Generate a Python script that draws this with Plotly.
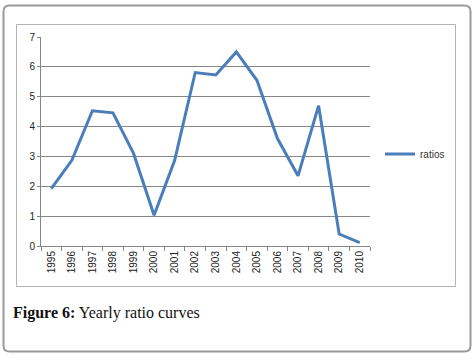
import plotly.graph_objects as go

years = ["1995", "1996", "1997", "1998", "1999", "2000", "2001", "2002",
         "2003", "2004", "2005", "2006", "2007", "2008", "2009", "2010"]
ratios = [1.92, 2.87, 4.53, 4.46, 3.1, 1.03, 2.87, 5.81,
          5.73, 6.5, 5.55, 3.6, 2.35, 4.7, 0.4, 0.11]
y_ticks = [0, 1, 2, 3, 4, 5, 6, 7]

W, H = 474, 355
L, R, T, B = 41, 104, 37, 109
PW, PH = W - L - R, H - T - B


def px(x):
    return (x - L) / PW


def py(y):
    return 1 - (y - T) / PH


def rounded_rect(x0, y0, x1, y1, r):
    rx, ry = r / PW, r / PH
    a, b, c, d = px(x0), py(y0), px(x1), py(y1)
    return (f"M {a+rx},{b} L {c-rx},{b} Q {c},{b} {c},{b-ry} "
            f"L {c},{d+ry} Q {c},{d} {c-rx},{d} L {a+rx},{d} "
            f"Q {a},{d} {a},{d+ry} L {a},{b-ry} Q {a},{b} {a+rx},{b} Z")


fig = go.Figure()
fig.add_trace(go.Scatter(
    x=years, y=ratios, mode="lines", name="ratios",
    line=dict(color="#4A7EBB", width=3),
))

fig.update_layout(
    width=W, height=H,
    margin=dict(l=L, r=R, t=T, b=B),
    paper_bgcolor="white", plot_bgcolor="white",
    showlegend=True,
    legend=dict(x=px(380), y=py(154), xanchor="left", yanchor="middle",
                font=dict(family="Liberation Sans, Arial", size=10, color="#333"),
                bgcolor="rgba(0,0,0,0)", itemwidth=30, tracegroupgap=0),
    xaxis=dict(
        type="category", range=[-0.5, 15.5], tickson="boundaries",
        ticks="outside", ticklen=4, tickcolor="#868686",
        showgrid=False, showline=True, linecolor="#868686", linewidth=1,
        tickangle=-90, tickfont=dict(family="Liberation Sans, Arial", size=10, color="#222"),
        zeroline=False,
    ),
    yaxis=dict(
        range=[0, 7], tickvals=y_ticks, ticks="outside", ticklen=3,
        tickcolor="#868686", showgrid=True, gridcolor="#868686", gridwidth=1,
        showline=True, linecolor="#868686", linewidth=1, zeroline=False,
        tickfont=dict(family="Liberation Sans, Arial", size=10, color="#222"),
    ),
    shapes=[
        dict(type="path", xref="paper", yref="paper",
             path=rounded_rect(3.5, 5.5, 470.5, 351.5, 6),
             line=dict(color="#9a9a9a", width=2), layer="below"),
        dict(type="rect", xref="paper", yref="paper",
             x0=px(16.5), y0=py(24.5), x1=px(455.5), y1=py(286.5),
             line=dict(color="#b4b4b4", width=1), layer="below"),
    ],
    annotations=[
        dict(xref="paper", yref="paper", x=px(11), y=py(313),
             xanchor="left", yanchor="middle", showarrow=False,
             text="<b>Figure 6:</b> Yearly ratio curves",
             font=dict(family="Liberation Serif, Times New Roman", size=16, color="#111")),
    ],
)

fig.write_html("out.html", config={"displayModeBar": False},
               post_script="document.body.style.margin='0';document.body.style.overflow='hidden';")
